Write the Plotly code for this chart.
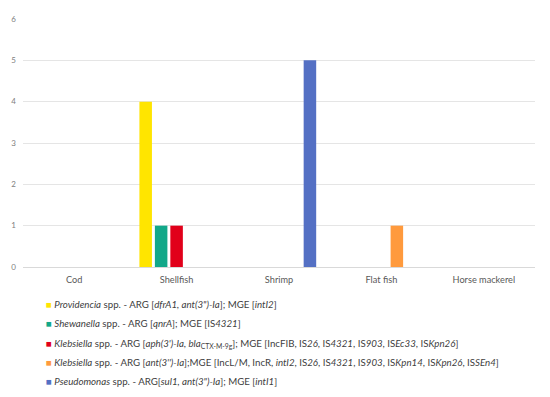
import plotly.graph_objects as go

categories = ["Cod", "Shellfish", "Shrimp", "Flat fish", "Horse mackerel"]

series_names = [
    "<i>Providencia</i> spp. - ARG [<i>dfrA1, ant(3\")-Ia</i>]; MGE [<i>intI2</i>]",
    "<i>Shewanella</i> spp. - ARG [<i>qnrA</i>]; MGE [IS<i>4321</i>]",
    "<i>Klebsiella</i> spp. - ARG [<i>aph(3')-Ia, bla</i><sub>CTX-M-9g</sub>]; MGE [IncFIB, IS<i>26</i>, IS<i>4321</i>, IS<i>903</i>, IS<i>Ec33</i>, IS<i>Kpn26</i>]",
    "<i>Klebsiella</i> spp. - ARG [<i>ant(3'')-Ia</i>];MGE [IncL/M, IncR, <i>intI2</i>, IS<i>26</i>, IS<i>4321</i>, IS<i>903</i>, IS<i>Kpn14</i>, IS<i>Kpn26</i>, IS<i>SEn4</i>]",
    "<i>Pseudomonas</i> spp. - ARG[<i>sul1, ant(3\")-Ia</i>]; MGE [<i>intI1</i>]",
]

providencia = [0, 4, 0, 0, 0]
shewanella = [0, 1, 0, 0, 0]
klebsiella_1 = [0, 1, 0, 0, 0]
klebsiella_2 = [0, 0, 0, 1, 0]
pseudomonas = [0, 0, 5, 0, 0]

series_values = [providencia, shewanella, klebsiella_1, klebsiella_2, pseudomonas]
colors = ["#FFE500", "#12A889", "#E1001A", "#FF9A3D", "#5470C4"]

fig = go.Figure()
for name, vals, col in zip(series_names, series_values, colors):
    fig.add_trace(go.Bar(
        x=categories, y=vals, name=name, marker_color=col,
        marker_line_width=0, showlegend=False,
    ))

W, H = 542, 389  # page has an 8px body margin
ml, mr, mt, mb = 15, 15, 11, 130
plot_w = W - ml - mr
plot_h = H - mt - mb

# Custom legend (compact square markers like the reference)
legend_rows_px = [296, 315, 335, 354, 373]
for name, col, ypx in zip(series_names, colors, legend_rows_px):
    fig.add_annotation(
        xref="paper", yref="paper",
        x=(36 - ml) / plot_w, y=(H - mb - ypx) / plot_h,
        xanchor="left", yanchor="middle", showarrow=False, align="left",
        text=f'<span style="color:{col}">■</span> {name}',
        font=dict(size=9.7, color="#404040"),
    )

fig.update_layout(
    width=W, height=H,
    barmode="group", bargap=0.245, bargroupgap=0.19,
    plot_bgcolor="white", paper_bgcolor="white",
    margin=dict(l=ml, r=mr, t=mt, b=mb),
    font=dict(family="Lato, Noto Sans, sans-serif", color="#404040"),
    showlegend=False,
    xaxis=dict(
        showgrid=False, showline=False, ticks="", automargin=False,
        tickfont=dict(size=9.2, color="#595959"), ticklabelstandoff=6,
    ),
    yaxis=dict(
        range=[0, 6], dtick=1, showgrid=True, gridcolor="#E5E5E5",
        gridwidth=1, zeroline=True, zerolinecolor="#D9D9D9", zerolinewidth=1,
        tickfont=dict(size=8, color="#808080"), ticks="", automargin=False,
        ticklabelstandoff=6,
    ),
)

fig.write_html("out.html")
